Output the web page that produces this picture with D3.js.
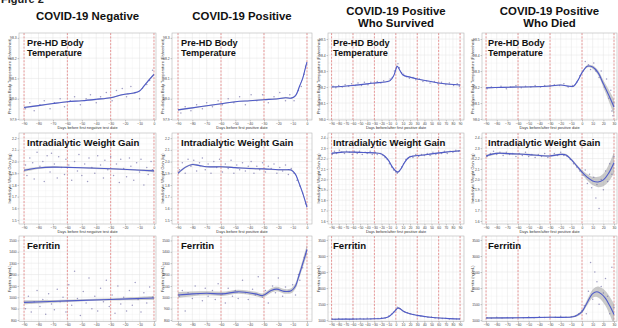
<!DOCTYPE html>
<html>
<head>
<meta charset="utf-8">
<script src="https://cdn.jsdelivr.net/npm/d3@7"></script>
<style>
body { margin: 0; background: #fff; }
svg { display: block; font-family: "Liberation Sans", Arial, sans-serif; }
</style>
</head>
<body>
<script>
// Column / row labels
var colTitles = [["COVID-19 Negative"], ["COVID-19 Positive"], ["COVID-19 Positive", "Who Survived"], ["COVID-19 Positive", "Who Died"]];
var rowTitles = [["Pre-HD Body", "Temperature"], ["Intradialytic Weight Gain"], ["Ferritin"]];
var xTitles = ["Days before first negative test date", "Days before first positive date", "Days before/after first positive date", "Days before/after first positive date"];
var yTitles = ["Pre-dialysis Body Temperature (Fahrenheit)", "Intradialytic Weight Gain (kg)", "Ferritin (ng/mL)"];

// y tick labels
var tempTicksA = [97.9, 98.0, 98.1, 98.2, 98.3];
var tempTicksB = [98.0, 98.1, 98.2, 98.3, 98.4, 98.5];
var idwgTicksA = [1.5, 1.6, 1.7, 1.8, 1.9, 2.0, 2.1, 2.2];
var idwgTicksB = [1.6, 1.7, 1.8, 1.9, 2.0, 2.1, 2.2, 2.3, 2.4];
var ferrTicksA = [800, 900, 1000, 1100, 1200, 1300, 1400, 1500];
var ferrTicksB = [1000, 1500, 2000, 2500, 3000, 3500];

// smoothed fits: [day, value, half width of band]
var negTempFit = [[-90,97.957,0.004],[-80,97.966,0.003],[-70,97.976,0.003],[-60,97.985,0.003],[-50,97.99,0.003],[-40,97.997,0.003],[-30,98.005,0.003],[-23,98.018,0.003],[-18,98.024,0.003],[-14,98.028,0.003],[-10,98.038,0.003],[-7,98.062,0.004],[-4,98.088,0.005],[0,98.12,0.006]];
var posTempFit = [[-90,97.945,0.004],[-80,97.955,0.003],[-70,97.965,0.003],[-60,97.975,0.003],[-50,97.985,0.003],[-40,97.99,0.003],[-30,97.995,0.003],[-20,98.0,0.003],[-15,98.005,0.003],[-11,98.003,0.003],[-8,98.015,0.004],[-5,98.065,0.005],[-3,98.1,0.005],[-1,98.155,0.006],[0,98.18,0.007]];
var survTempFit = [[-90,98.2,0.003],[-60,98.21,0.002],[-30,98.225,0.002],[-15,98.232,0.002],[-8,98.24,0.002],[-3,98.27,0.003],[0,98.31,0.003],[2,98.33,0.003],[5,98.31,0.003],[10,98.275,0.002],[20,98.262,0.002],[30,98.25,0.002],[45,98.238,0.002],[60,98.225,0.002],[75,98.218,0.002],[90,98.213,0.003]];
var diedTempFit = [[-90,98.195,0.004],[-75,98.198,0.003],[-60,98.2,0.003],[-45,98.202,0.003],[-30,98.207,0.003],[-20,98.213,0.003],[-12,98.205,0.003],[-8,98.205,0.004],[-4,98.24,0.005],[0,98.29,0.006],[5,98.33,0.008],[10,98.325,0.01],[15,98.29,0.015],[20,98.22,0.022],[25,98.15,0.035],[30,98.075,0.05]];

var negIdwgFit = [[-90,1.925,0.012],[-80,1.945,0.008],[-70,1.952,0.007],[-60,1.95,0.006],[-45,1.945,0.006],[-30,1.938,0.006],[-15,1.93,0.007],[0,1.92,0.012]];
var posIdwgFit = [[-90,1.9,0.012],[-85,1.95,0.008],[-80,1.975,0.007],[-75,1.965,0.006],[-70,1.955,0.006],[-60,1.955,0.006],[-50,1.948,0.006],[-40,1.94,0.006],[-30,1.937,0.006],[-20,1.93,0.006],[-15,1.93,0.006],[-11,1.927,0.007],[-8,1.89,0.008],[-6,1.83,0.01],[-3,1.73,0.012],[0,1.61,0.015]];
var survIdwgFit = [[-90,2.25,0.006],[-75,2.262,0.005],[-60,2.262,0.005],[-45,2.258,0.005],[-30,2.255,0.005],[-20,2.245,0.005],[-15,2.22,0.006],[-10,2.18,0.006],[-5,2.12,0.007],[0,2.08,0.008],[3,2.07,0.008],[7,2.1,0.008],[12,2.16,0.007],[18,2.21,0.006],[25,2.225,0.005],[35,2.232,0.005],[50,2.245,0.005],[70,2.262,0.005],[90,2.275,0.007]];
var diedIdwgFit = [[-90,2.225,0.012],[-80,2.25,0.009],[-70,2.248,0.008],[-60,2.244,0.008],[-50,2.238,0.008],[-40,2.23,0.008],[-30,2.225,0.008],[-20,2.24,0.009],[-15,2.235,0.009],[-10,2.19,0.01],[-5,2.13,0.014],[0,2.07,0.02],[5,2.02,0.03],[10,1.985,0.04],[15,1.975,0.05],[20,1.995,0.06],[25,2.06,0.08],[30,2.16,0.1]];

var negFerrFit = [[-90,955,18],[-60,968,10],[-30,981,10],[0,994,18]];
var posFerrFit = [[-90,1020,25],[-80,1030,20],[-70,1035,18],[-59,1030,18],[-48,1048,18],[-36,1030,18],[-31,1015,18],[-25,1060,20],[-21,1072,20],[-16,1052,20],[-11,1058,22],[-8,1100,25],[-6,1174,28],[-4,1255,32],[-2,1335,38],[0,1420,45]];
var survFerrFit = [[-90,1030,15],[-60,1035,12],[-30,1045,12],[-20,1055,12],[-10,1110,15],[-5,1200,18],[0,1320,20],[3,1380,22],[6,1360,22],[10,1290,20],[20,1200,15],[30,1150,12],[45,1100,12],[60,1070,12],[75,1050,12],[90,1040,15]];
var diedFerrFit = [[-90,1070,30],[-60,1075,20],[-30,1090,20],[-10,1100,25],[-5,1150,35],[0,1270,50],[5,1560,90],[10,1830,130],[14,1885,160],[18,1820,190],[22,1680,230],[26,1450,280],[30,1180,330]];

// daily means: [day, value]
var negTempPts = [[-89,97.95],[-86,97.98],[-83,97.94],[-79,97.97],[-76,97.99],[-72,97.95],[-69,97.98],[-65,98.0],[-62,97.96],[-58,97.99],[-55,98.01],[-51,97.97],[-47,98.0],[-44,98.02],[-40,97.98],[-37,98.01],[-33,98.03],[-29,97.99],[-26,98.04],[-22,98.05],[-19,98.01],[-16,98.06],[-13,98.03],[-10,98.0],[-8,98.05],[-5,98.07],[-3,98.09],[-1,98.14]];
var posTempPts = [[-88,97.93],[-85,97.96],[-81,97.94],[-77,97.97],[-73,97.95],[-70,97.98],[-66,97.96],[-62,97.99],[-59,97.97],[-55,98.0],[-51,97.98],[-47,98.01],[-43,97.97],[-39,98.02],[-35,97.99],[-31,98.02],[-27,97.98],[-23,98.01],[-19,98.03],[-15,97.99],[-12,98.02],[-9,97.99],[-6,98.04],[-4,98.06],[-2,98.12],[-1,98.16]];
var survTempPts = [[-88,98.205],[-84,98.195],[-80,98.21],[-75,98.2],[-71,98.215],[-66,98.205],[-62,98.22],[-57,98.21],[-53,98.225],[-48,98.21],[-44,98.23],[-39,98.215],[-35,98.23],[-30,98.22],[-26,98.235],[-21,98.225],[-17,98.24],[-12,98.235],[-8,98.25],[-5,98.26],[-2,98.3],[1,98.33],[3,98.345],[5,98.32],[8,98.29],[11,98.28],[15,98.265],[19,98.255],[24,98.26],[28,98.245],[33,98.25],[38,98.235],[43,98.24],[48,98.225],[54,98.235],[59,98.22],[64,98.23],[70,98.215],[75,98.225],[81,98.21],[86,98.22],[89,98.205]];
var diedTempPts = [[-89,98.19],[-85,98.2],[-80,98.195],[-76,98.205],[-71,98.19],[-67,98.2],[-62,98.21],[-57,98.195],[-53,98.205],[-48,98.2],[-44,98.21],[-39,98.2],[-35,98.21],[-30,98.205],[-26,98.215],[-21,98.21],[-17,98.22],[-13,98.2],[-9,98.21],[-5,98.23],[-2,98.27],[1,98.3],[3,98.36],[6,98.34],[8,98.31],[11,98.35],[13,98.3],[16,98.26],[18,98.3],[21,98.2],[23,98.25],[25,98.13],[27,98.18],[28,98.05],[30,98.1],[29,98.02]];

var negIdwgPts = [[-89,1.97],[-88,1.88],[-86,2.03],[-84,1.99],[-83,1.85],[-81,2.08],[-79,1.96],[-77,2.0],[-76,1.83],[-74,2.05],[-72,1.91],[-71,2.07],[-69,1.98],[-67,1.86],[-66,2.04],[-64,1.95],[-62,1.89],[-61,2.02],[-59,1.97],[-57,1.84],[-55,2.0],[-53,1.92],[-52,2.06],[-50,1.88],[-48,1.98],[-46,1.83],[-45,2.03],[-43,1.95],[-41,1.9],[-39,2.05],[-37,1.97],[-35,1.86],[-34,2.01],[-32,1.93],[-30,2.04],[-28,1.88],[-26,1.98],[-24,1.82],[-23,2.02],[-21,1.94],[-19,1.87],[-17,2.03],[-16,1.96],[-14,1.84],[-12,1.99],[-10,1.91],[-9,2.02],[-7,1.8],[-5,1.95],[-4,1.89],[-2,2.0],[-1,1.93]];
var posIdwgPts = [[-89,1.93],[-87,1.99],[-85,1.9],[-83,2.02],[-81,1.96],[-79,2.01],[-77,1.92],[-75,1.99],[-73,2.03],[-71,1.93],[-69,1.98],[-67,1.9],[-65,2.0],[-63,1.95],[-61,2.02],[-59,1.91],[-57,1.98],[-55,1.94],[-53,2.01],[-51,1.9],[-49,1.97],[-47,1.93],[-45,1.99],[-43,1.92],[-41,1.96],[-39,2.0],[-37,1.9],[-35,1.96],[-33,1.93],[-31,1.99],[-29,1.91],[-27,1.96],[-25,1.94],[-23,1.98],[-21,1.9],[-19,1.95],[-17,1.92],[-15,1.97],[-13,1.89],[-11,1.94],[-9,1.9],[-7,1.84],[-5,1.79],[-3,1.73],[-1,1.64]];
var survIdwgPts = [[-89,2.24],[-86,2.27],[-83,2.25],[-79,2.28],[-76,2.26],[-72,2.25],[-69,2.27],[-65,2.26],[-61,2.24],[-58,2.27],[-54,2.25],[-51,2.27],[-47,2.24],[-43,2.26],[-40,2.25],[-36,2.27],[-33,2.24],[-29,2.26],[-26,2.24],[-22,2.25],[-18,2.23],[-15,2.21],[-12,2.19],[-9,2.15],[-6,2.12],[-3,2.09],[0,2.07],[2,2.06],[5,2.08],[8,2.12],[11,2.15],[14,2.19],[17,2.2],[20,2.22],[24,2.21],[28,2.24],[32,2.22],[36,2.24],[40,2.23],[44,2.25],[48,2.23],[52,2.26],[56,2.24],[60,2.26],[64,2.25],[68,2.27],[72,2.25],[76,2.27],[80,2.26],[84,2.28],[88,2.27]];
var diedIdwgPts = [[-89,2.22],[-86,2.25],[-83,2.27],[-80,2.24],[-77,2.26],[-74,2.23],[-71,2.26],[-68,2.24],[-65,2.25],[-62,2.22],[-59,2.25],[-56,2.23],[-53,2.26],[-50,2.22],[-47,2.24],[-44,2.21],[-41,2.24],[-38,2.22],[-35,2.25],[-32,2.21],[-29,2.23],[-26,2.25],[-23,2.23],[-20,2.26],[-17,2.23],[-14,2.22],[-11,2.19],[-8,2.15],[-5,2.12],[-2,2.08],[1,2.04],[3,2.09],[5,1.96],[7,2.05],[9,1.92],[11,2.02],[13,1.82],[14,1.95],[16,1.72],[18,2.0],[20,1.9],[22,2.08],[24,1.98],[26,2.15],[28,2.05],[30,2.22]];

var negFerrPts = [[-89,900],[-87,1010],[-85,870],[-83,960],[-81,1060],[-79,920],[-77,980],[-75,850],[-73,1030],[-71,940],[-69,890],[-67,1070],[-65,960],[-63,1000],[-61,870],[-59,1110],[-57,930],[-55,1230],[-53,990],[-51,840],[-49,1050],[-47,950],[-45,1170],[-43,900],[-41,1010],[-39,880],[-37,1080],[-35,960],[-33,1150],[-31,920],[-29,1020],[-27,860],[-25,1100],[-23,940],[-21,1000],[-19,880],[-17,1060],[-15,930],[-13,1130],[-11,980],[-9,870],[-7,1040],[-5,950],[-3,1090],[-1,1000]];
var posFerrPts = [[-89,1010],[-87,1060],[-85,880],[-83,1040],[-80,990],[-78,1100],[-76,1030],[-73,970],[-71,1080],[-69,1010],[-66,1060],[-64,980],[-62,1120],[-59,1030],[-57,950],[-55,1080],[-52,1010],[-50,1060],[-48,990],[-45,1150],[-43,1040],[-41,980],[-38,1070],[-36,1020],[-34,1180],[-31,1000],[-29,1060],[-27,950],[-24,1100],[-22,1040],[-20,1170],[-17,1010],[-15,1090],[-13,1050],[-10,1110],[-8,1020],[-6,1200],[-5,1150],[-3,1260],[-2,1350],[-1,1380]];
var survFerrPts = [[-89,1040],[-85,1020],[-80,1050],[-75,1030],[-70,1045],[-65,1025],[-60,1050],[-55,1030],[-50,1055],[-45,1035],[-40,1060],[-35,1040],[-30,1065],[-25,1050],[-20,1080],[-15,1070],[-10,1130],[-6,1190],[-3,1250],[0,1320],[2,1400],[4,1380],[6,1350],[9,1300],[12,1260],[16,1230],[20,1190],[25,1180],[30,1140],[35,1130],[40,1110],[45,1090],[50,1100],[55,1070],[60,1080],[65,1055],[70,1060],[75,1040],[80,1050],[85,1035],[89,1045]];
var diedFerrPts = [[-89,1080],[-85,1060],[-80,1090],[-75,1070],[-70,1085],[-65,1060],[-60,1090],[-55,1075],[-50,1100],[-45,1080],[-40,1110],[-35,1085],[-30,1100],[-25,1090],[-20,1120],[-15,1095],[-10,1110],[-6,1130],[-3,1200],[0,1300],[2,1450],[4,1200],[6,1900],[8,2800],[10,1650],[12,2500],[14,2200],[16,1500],[18,2050],[20,1850],[22,2300],[24,1750],[26,1200],[28,2650],[30,1400]];

var width = 618, height = 328;
var svg = d3.select("body").append("svg")
    .attr("width", width)
    .attr("height", height);

// panel geometry
var colX = [[19, 156], [172, 312], [328, 464], [482, 617]];
var rowY = [[33, 120], [133, 224], [236, 321.5]];
var xDomains = [[-93.5, 1.4], [-94.2, 3.5], [-95, 95.5], [-93.8, 32.8]];
var yDomains = [
  [[97.895, 98.324], [97.895, 98.324], [97.994, 98.538], [97.994, 98.538]],
  [[1.466, 2.244], [1.466, 2.244], [1.571, 2.446], [1.571, 2.446]],
  [[787, 1539], [787, 1539], [960, 3622], [960, 3622]]
];
var yTicks = [
  [tempTicksA, tempTicksA, tempTicksB, tempTicksB],
  [idwgTicksA, idwgTicksA, idwgTicksB, idwgTicksB],
  [ferrTicksA, ferrTicksA, ferrTicksB, ferrTicksB]
];
var titleOffset = [8, 9, 5, 6];

var panels = [
  {row: 0, col: 0, fit: negTempFit, pts: negTempPts},
  {row: 0, col: 1, fit: posTempFit, pts: posTempPts},
  {row: 0, col: 2, fit: survTempFit, pts: survTempPts},
  {row: 0, col: 3, fit: diedTempFit, pts: diedTempPts},
  {row: 1, col: 0, fit: negIdwgFit, pts: negIdwgPts},
  {row: 1, col: 1, fit: posIdwgFit, pts: posIdwgPts},
  {row: 1, col: 2, fit: survIdwgFit, pts: survIdwgPts},
  {row: 1, col: 3, fit: diedIdwgFit, pts: diedIdwgPts},
  {row: 2, col: 0, fit: negFerrFit, pts: negFerrPts},
  {row: 2, col: 1, fit: posFerrFit, pts: posFerrPts},
  {row: 2, col: 2, fit: survFerrFit, pts: survFerrPts},
  {row: 2, col: 3, fit: diedFerrFit, pts: diedFerrPts}
];

// cut-off figure label at the very top
svg.append("text").attr("x", 1).attr("y", 3)
    .style("font-size", "11px").style("font-weight", "bold").attr("fill", "#222")
    .text("Figure 2");

// column headings
colTitles.forEach(function(lines, c) {
  var cx = (colX[c][0] + colX[c][1]) / 2;
  var base = lines.length > 1 ? [15, 27] : [20];
  lines.forEach(function(t, i) {
    svg.append("text").attr("x", cx).attr("y", base[i])
        .attr("text-anchor", "middle")
        .style("font-size", "11.4px").style("font-weight", "bold").attr("fill", "#111")
        .text(t);
  });
});

var tickFmt = [d3.format(".1f"), d3.format(".1f"), d3.format("d")];

panels.forEach(function(p, k) {
  var x0 = colX[p.col][0], x1 = colX[p.col][1];
  var y0 = rowY[p.row][0], y1 = rowY[p.row][1];
  var x = d3.scaleLinear().domain(xDomains[p.col]).range([x0, x1]);
  var y = d3.scaleLinear().domain(yDomains[p.row][p.col]).range([y1, y0]);
  var xt = d3.range(-90, xDomains[p.col][1], 10);
  var xm = d3.range(-95, xDomains[p.col][1], 10).filter(function(d) { return d > xDomains[p.col][0]; });
  var yt = yTicks[p.row][p.col];
  var step = yt[1] - yt[0];
  var ym = yt.map(function(d) { return d + step / 2; }).concat([yt[0] - step / 2])
      .filter(function(d) { return d > y.domain()[0] && d < y.domain()[1]; });

  var g = svg.append("g");
  g.append("clipPath").attr("id", "clip" + k).append("rect")
      .attr("x", x0).attr("y", y0).attr("width", x1 - x0).attr("height", y1 - y0);

  g.append("rect").attr("x", x0).attr("y", y0).attr("width", x1 - x0).attr("height", y1 - y0)
      .attr("fill", "#fff");

  // minor + major grid
  g.selectAll(".vmin").data(xm).enter().append("line")
      .attr("x1", x).attr("x2", x).attr("y1", y0).attr("y2", y1)
      .attr("stroke", "#f0f0f0").attr("stroke-width", 0.4);
  g.selectAll(".hmin").data(ym).enter().append("line")
      .attr("x1", x0).attr("x2", x1).attr("y1", y).attr("y2", y)
      .attr("stroke", "#f0f0f0").attr("stroke-width", 0.4);
  g.selectAll(".vmaj").data(xt).enter().append("line")
      .attr("x1", x).attr("x2", x).attr("y1", y0).attr("y2", y1)
      .attr("stroke", "#e2e2e2").attr("stroke-width", 0.5);
  g.selectAll(".hmaj").data(yt).enter().append("line")
      .attr("x1", x0).attr("x2", x1).attr("y1", y).attr("y2", y)
      .attr("stroke", "#e2e2e2").attr("stroke-width", 0.5);

  // red dashed reference days
  g.selectAll(".ref").data(xt.filter(function(d) { return d % 30 === 0; })).enter().append("line")
      .attr("x1", x).attr("x2", x).attr("y1", y0).attr("y2", y1)
      .attr("stroke", "#e05a5a").attr("stroke-width", 0.6).attr("stroke-dasharray", "2,1.4");

  var inner = g.append("g").attr("clip-path", "url(#clip" + k + ")");

  // confidence band
  var area = d3.area()
      .x(function(d) { return x(d[0]); })
      .y0(function(d) { return y(d[1] - d[2]); })
      .y1(function(d) { return y(d[1] + d[2]); })
      .curve(d3.curveCatmullRom.alpha(0.5));
  inner.append("path").datum(p.fit).attr("d", area)
      .attr("fill", "#8c8c8c").attr("fill-opacity", 0.45);

  // daily points
  inner.selectAll("circle").data(p.pts).enter().append("circle")
      .attr("cx", function(d) { return x(d[0]); })
      .attr("cy", function(d) { return y(d[1]); })
      .attr("r", 0.75)
      .attr("fill", "#7d7aae").attr("fill-opacity", 0.75);

  // smooth line
  var line = d3.line()
      .x(function(d) { return x(d[0]); })
      .y(function(d) { return y(d[1]); })
      .curve(d3.curveCatmullRom.alpha(0.5));
  inner.append("path").datum(p.fit).attr("d", line)
      .attr("fill", "none").attr("stroke", "#4f5bc9").attr("stroke-width", 1.1);

  // border
  g.append("rect").attr("x", x0).attr("y", y0).attr("width", x1 - x0).attr("height", y1 - y0)
      .attr("fill", "none").attr("stroke", "#b5b5b5").attr("stroke-width", 0.6);

  // axes
  var xa = g.append("g").attr("transform", "translate(0," + y1 + ")")
      .call(d3.axisBottom(x).tickValues(xt).tickSize(1.5).tickPadding(0.6).tickFormat(d3.format("d")));
  var ya = g.append("g").attr("transform", "translate(" + x0 + ",0)")
      .call(d3.axisLeft(y).tickValues(yt).tickSize(1.5).tickPadding(0.8).tickFormat(tickFmt[p.row]));
  [xa, ya].forEach(function(a) {
    a.select(".domain").remove();
    a.selectAll("line").attr("stroke", "#777").attr("stroke-width", 0.4);
    a.selectAll("text").attr("fill", "#444").style("font-size", "3.4px").style("font-family", "Liberation Sans, Arial, sans-serif");
  });

  // axis titles (the bottom row's titles fall below the picture in the original)
  if (p.row < 2) {
    g.append("text").attr("x", (x0 + x1) / 2).attr("y", y1 + 9)
        .attr("text-anchor", "middle").style("font-size", "3.9px").attr("fill", "#333")
        .text(xTitles[p.col]);
  }
  g.append("text")
      .attr("transform", "translate(" + (x0 - 8.5) + "," + ((y0 + y1) / 2) + ") rotate(-90)")
      .attr("text-anchor", "middle").style("font-size", "3.9px").attr("fill", "#333")
      .text(yTitles[p.row]);

  // panel title
  rowTitles[p.row].forEach(function(t, i) {
    g.append("text").attr("x", x0 + titleOffset[p.col]).attr("y", y0 + 12.5 + i * 10)
        .style("font-size", p.row === 0 ? "9.2px" : "9.6px").style("font-weight", "bold").attr("fill", "#111")
        .text(t);
  });
});
</script>
</body>
</html>
